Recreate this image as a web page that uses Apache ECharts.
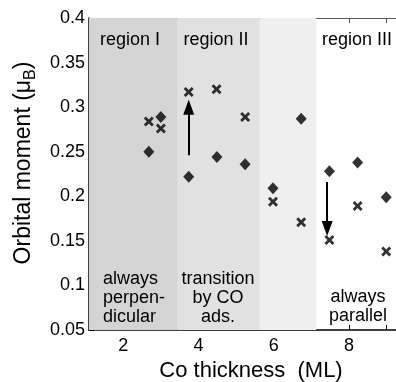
<!DOCTYPE html>
<html>
<head>
<meta charset="utf-8">
<script src="https://cdn.jsdelivr.net/npm/echarts@6/dist/echarts.min.js"></script>
<style>
  html, body { margin: 0; padding: 0; background: #fff; }
  #chart { width: 396px; height: 382px; }
</style>
</head>
<body>
<div id="chart"></div>
<script>
// Co thickness (ML) and orbital moment values
var thicknessDiamond = [2.68, 3.0, 3.74, 4.49, 5.24, 5.98, 6.73, 7.48, 8.23, 8.99]
var momentDiamond = [0.250, 0.289, 0.222, 0.244, 0.236, 0.209, 0.287, 0.228, 0.238, 0.199]
var thicknessCross = [2.68, 3.0, 3.74, 4.48, 5.24, 5.98, 6.73, 7.48, 8.23, 8.99]
var momentCross = [0.284, 0.276, 0.317, 0.320, 0.289, 0.194, 0.171, 0.151, 0.189, 0.138]

// shaded regions: [from, to, colour]
var regionEdges = [1.09, 3.45, 5.63, 7.13]
var regionColors = ['#d4d4d4', '#e1e1e1', '#efefef']

// arrows: [x, yFrom, yTo]
var arrowUp = [3.74, 0.246, 0.300]
var arrowDown = [7.42, 0.216, 0.164]

var xTicks = [2, 3, 4, 5, 6, 7, 8, 9]
var xLabels = [2, 4, 6, 8]

var font = 'Liberation Sans, Arial, Helvetica, sans-serif'

function zip(xs, ys) {
  return xs.map(function(x, i) { return [x, ys[i]] })
}

var areas = []
for (var i = 0; i < regionColors.length; i++) {
  areas.push([
    { xAxis: regionEdges[i], itemStyle: { color: regionColors[i] } },
    { xAxis: regionEdges[i + 1] }
  ])
}

var crossPath = 'path://M2,0L5,3L8,0L10,2L7,5L10,8L8,10L5,7L2,10L0,8L3,5L0,2Z'

// centred multi-line note
function note(text, cx, top) {
  return {
    type: 'text', z: 100, x: cx, y: top,
    style: { text: text, font: '18px ' + font, lineHeight: 19, fill: '#000', align: 'center', verticalAlign: 'top' }
  }
}

var myChart = echarts.init(document.getElementById('chart'))

myChart.setOption({
  animation: false,
  grid: { left: 89, top: 18, right: 0, bottom: 52, outerBoundsMode: 'none', containLabel: false },
  xAxis: [
    {
      type: 'value',
      min: 1.09,
      max: 9.25,
      position: 'bottom',
      name: 'Co thickness  (ML)',
      nameLocation: 'middle',
      nameGap: 25,
      nameTextStyle: { fontFamily: font, fontSize: 22, color: '#000', padding: [0, 0, 0, 17] },
      axisLine: { onZero: false, lineStyle: { color: '#000', width: 1.5 } },
      axisTick: { inside: true, length: 5, customValues: xTicks, lineStyle: { color: '#000' } },
      axisLabel: { customValues: xLabels, fontFamily: font, fontSize: 18, color: '#000', margin: 7 },
      splitLine: { show: false }
    },
    {
      type: 'value',
      min: 1.09,
      max: 9.25,
      position: 'top',
      axisLine: { onZero: false, lineStyle: { color: '#555', width: 1.2 } },
      axisTick: { inside: true, length: 5, customValues: xTicks, lineStyle: { color: '#555' } },
      axisLabel: { show: false },
      splitLine: { show: false }
    }
  ],
  yAxis: {
    type: 'value',
    min: 0.05,
    max: 0.4,
    interval: 0.05,
    name: 'Orbital moment (μ{sub|B})',
    nameLocation: 'middle',
    nameGap: 43,
    nameTextStyle: {
      fontFamily: font, fontSize: 23, color: '#000',
      padding: [0, 0, 0, 22],
      rich: { sub: { fontFamily: font, fontSize: 16, color: '#000', verticalAlign: 'bottom', padding: [14, 0, 0, 0] } }
    },
    axisLine: { onZero: false, lineStyle: { color: '#000', width: 1.5 } },
    axisTick: { inside: true, length: 5, lineStyle: { color: '#000' } },
    axisLabel: { fontFamily: font, fontSize: 18, color: '#000', margin: 4 },
    splitLine: { show: false }
  },
  series: [
    {
      type: 'scatter',
      symbol: 'diamond',
      symbolSize: [11, 12],
      itemStyle: { color: '#000' },
      data: zip(thicknessDiamond, momentDiamond),
      markArea: { silent: true, data: areas },
      z: 3
    },
    {
      type: 'scatter',
      symbol: crossPath,
      symbolSize: 10,
      itemStyle: { color: '#000' },
      data: zip(thicknessCross, momentCross),
      markLine: {
        silent: true,
        symbol: ['none', 'triangle'],
        symbolSize: [11, 15],
        lineStyle: { color: '#000', width: 2, type: 'solid' },
        label: { show: false },
        data: [
          [{ coord: [arrowUp[0], arrowUp[1]] }, { coord: [arrowUp[0], arrowUp[2]] }],
          [{ coord: [arrowDown[0], arrowDown[1]] }, { coord: [arrowDown[0], arrowDown[2]] }]
        ]
      },
      z: 3
    }
  ],
  graphic: {
    elements: [
      note('region I', 130, 31),
      note('region II', 216, 31),
      note('region III', 357, 31),
      { type: 'text', z: 100, x: 103, y: 270, style: { text: 'always\nperpen-\ndicular', font: '18px ' + font, lineHeight: 19, fill: '#000', align: 'left', verticalAlign: 'top' } },
      note('transition\nby CO\nads.', 218, 270),
      note('always\nparallel', 358, 288)
    ]
  }
})
</script>
</body>
</html>
